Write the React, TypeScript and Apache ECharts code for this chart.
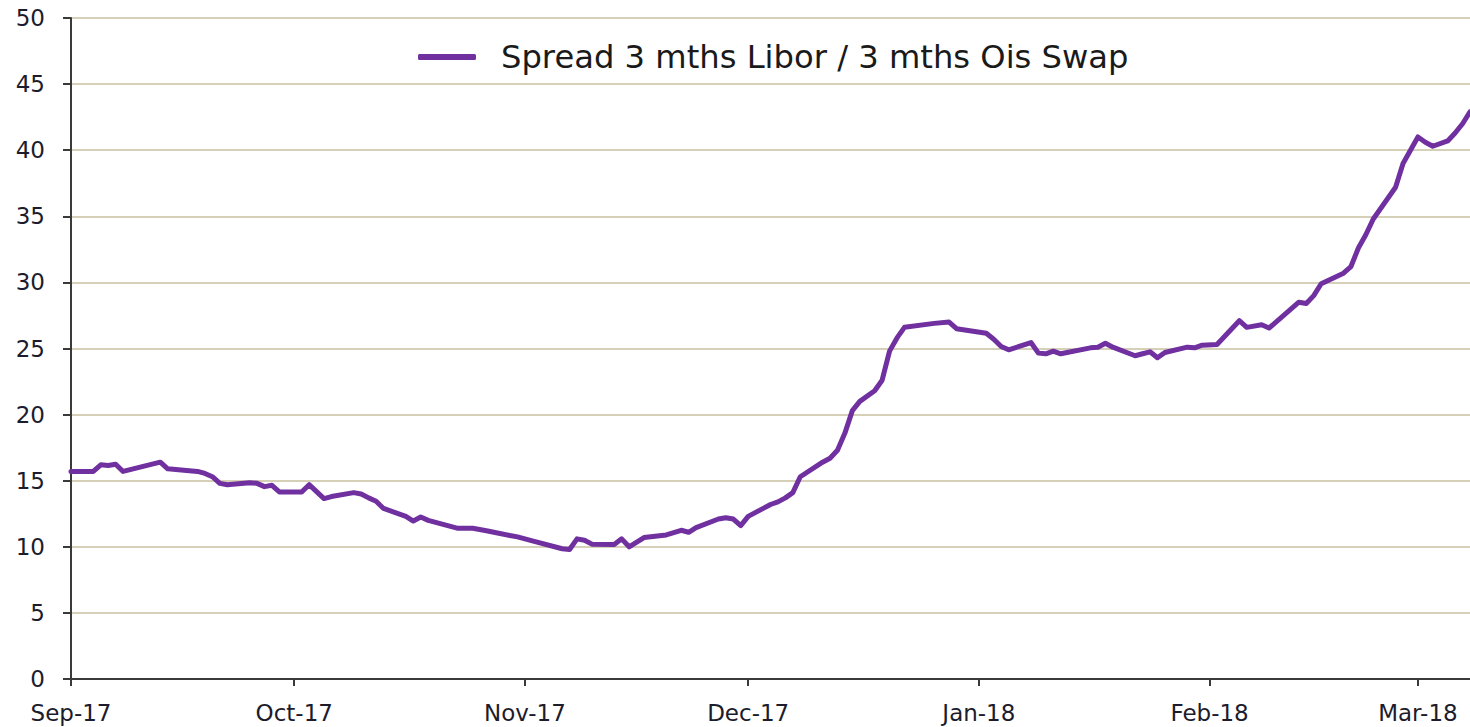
import React, { useEffect, useRef } from "react";
import * as echarts from "echarts";

const seriesName = "Spread 3 mths Libor / 3 mths Ois Swap";

const dates: string[] = [
  "2017-09-01", "2017-09-04", "2017-09-05", "2017-09-06", "2017-09-07", "2017-09-08",
  "2017-09-13", "2017-09-14", "2017-09-18", "2017-09-19", "2017-09-20", "2017-09-21",
  "2017-09-22", "2017-09-25", "2017-09-26", "2017-09-27", "2017-09-28", "2017-09-29",
  "2017-10-02", "2017-10-03", "2017-10-05", "2017-10-06", "2017-10-09", "2017-10-10",
  "2017-10-11", "2017-10-12", "2017-10-13", "2017-10-16", "2017-10-17", "2017-10-18",
  "2017-10-19", "2017-10-23", "2017-10-25", "2017-10-27", "2017-10-30", "2017-10-31",
  "2017-11-02", "2017-11-06", "2017-11-07", "2017-11-08", "2017-11-09", "2017-11-10",
  "2017-11-13", "2017-11-14", "2017-11-15", "2017-11-17", "2017-11-20", "2017-11-22",
  "2017-11-23", "2017-11-24", "2017-11-27", "2017-11-28", "2017-11-29", "2017-11-30",
  "2017-12-01", "2017-12-04", "2017-12-05", "2017-12-06", "2017-12-07", "2017-12-08",
  "2017-12-11", "2017-12-12", "2017-12-13", "2017-12-14", "2017-12-15", "2017-12-16",
  "2017-12-18", "2017-12-19", "2017-12-20", "2017-12-21", "2017-12-22", "2017-12-26",
  "2017-12-28", "2017-12-29", "2018-01-02", "2018-01-03", "2018-01-04", "2018-01-05",
  "2018-01-08", "2018-01-09", "2018-01-10", "2018-01-11", "2018-01-12", "2018-01-16",
  "2018-01-17", "2018-01-18", "2018-01-19", "2018-01-22", "2018-01-23", "2018-01-24",
  "2018-01-25", "2018-01-26", "2018-01-29", "2018-01-30", "2018-01-31", "2018-02-02",
  "2018-02-05", "2018-02-06", "2018-02-08", "2018-02-09", "2018-02-13", "2018-02-14",
  "2018-02-15", "2018-02-16", "2018-02-19", "2018-02-20", "2018-02-21", "2018-02-22",
  "2018-02-23", "2018-02-26", "2018-02-27", "2018-02-28", "2018-03-01", "2018-03-02",
  "2018-03-03", "2018-03-05", "2018-03-06", "2018-03-07", "2018-03-08",
];

const spreadValues: number[] = [
  15.7, 15.7, 16.2, 16.15, 16.25, 15.7,
  16.4, 15.9, 15.7, 15.55, 15.3, 14.8,
  14.7, 14.85, 14.8, 14.55, 14.65, 14.15,
  14.15, 14.7, 13.65, 13.8, 14.1, 14.0,
  13.7, 13.45, 12.9, 12.3, 11.95, 12.25,
  12.0, 11.4, 11.4, 11.2, 10.85, 10.75,
  10.45, 9.85, 9.8, 10.6, 10.5, 10.2,
  10.18, 10.6, 10.0, 10.7, 10.9, 11.25,
  11.1, 11.45, 12.1, 12.2, 12.1, 11.6,
  12.3, 13.2, 13.4, 13.7, 14.1, 15.3,
  16.4, 16.7, 17.3, 18.6, 20.3, 21.0,
  21.8, 22.6, 24.8, 25.8, 26.6, 26.9,
  27.0, 26.5, 26.15, 25.7, 25.15, 24.9,
  25.45, 24.65, 24.6, 24.8, 24.6, 25.05,
  25.1, 25.4, 25.1, 24.45, 24.6, 24.75,
  24.3, 24.7, 25.1, 25.05, 25.25, 25.3,
  27.1, 26.6, 26.8, 26.55, 28.5, 28.4,
  29.0, 29.9, 30.7, 31.2, 32.6, 33.6,
  34.8, 37.2, 39.0, 40.0, 41.0, 40.6,
  40.3, 40.7, 41.3, 42.0, 42.9,
];

const monthNames = ["Jan", "Feb", "Mar", "Apr", "May", "Jun", "Jul", "Aug", "Sep", "Oct", "Nov", "Dec"];
const yTicks = { min: 0, max: 50, interval: 5 };
const xRange = { min: "2017-09-01", max: "2018-03-08" };

export default function App() {
  const ref = useRef<HTMLDivElement>(null);

  useEffect(() => {
    if (!ref.current) return;
    const chart = echarts.init(ref.current, undefined, { renderer: "svg" });
    const axisColor = "#3a3a3a";
    const labelColor = "#1c1c2c";
    const font = "DejaVu Sans, Verdana, sans-serif";
    chart.setOption({
      animation: false,
      backgroundColor: "#ffffff",
      grid: { left: 71, right: 0, top: 18, bottom: 48, containLabel: false },
      legend: {
        top: 36,
        left: 413,
        itemWidth: 58,
        itemHeight: 6,
        icon: "roundRect",
        textStyle: {
          fontFamily: font,
          fontSize: 32.2,
          color: "#1a1a1a",
          padding: [0, 0, 0, 20],
        },
        data: [seriesName],
      },
      xAxis: {
        type: "time",
        min: xRange.min,
        max: xRange.max,
        minInterval: 28 * 86400000,
        maxInterval: 31 * 86400000,
        splitLine: { show: false },
        axisLine: { show: true, lineStyle: { color: axisColor, width: 2 } },
        axisTick: { show: true, length: 7, lineStyle: { color: axisColor, width: 2 } },
        axisLabel: {
          fontFamily: font,
          fontSize: 23,
          color: labelColor,
          margin: 22,
          hideOverlap: false,
          formatter: (val: number) => {
            const d = new Date(val);
            return monthNames[d.getMonth()] + "-" + String(d.getFullYear()).slice(2);
          },
        },
      },
      yAxis: {
        type: "value",
        min: yTicks.min,
        max: yTicks.max,
        interval: yTicks.interval,
        axisLine: { show: true, lineStyle: { color: axisColor, width: 2 } },
        axisTick: { show: true, length: 8, lineStyle: { color: axisColor, width: 2 } },
        axisLabel: { fontFamily: font, fontSize: 23, color: labelColor, margin: 26 },
        splitLine: { show: true, lineStyle: { color: "#c9c1a0", width: 1.5 } },
      },
      series: [
        {
          name: seriesName,
          type: "line",
          data: dates.map((d, i) => [d, spreadValues[i]]),
          showSymbol: false,
          symbol: "none",
          lineStyle: { color: "#7030a0", width: 5, join: "round", cap: "round" },
          itemStyle: { color: "#7030a0" },
          z: 5,
        },
      ],
    });
    return () => chart.dispose();
  }, []);

  return (
    <div
      ref={ref}
      style={{ position: "absolute", left: 0, top: 0, width: 1470, height: 727 }}
    />
  );
}
